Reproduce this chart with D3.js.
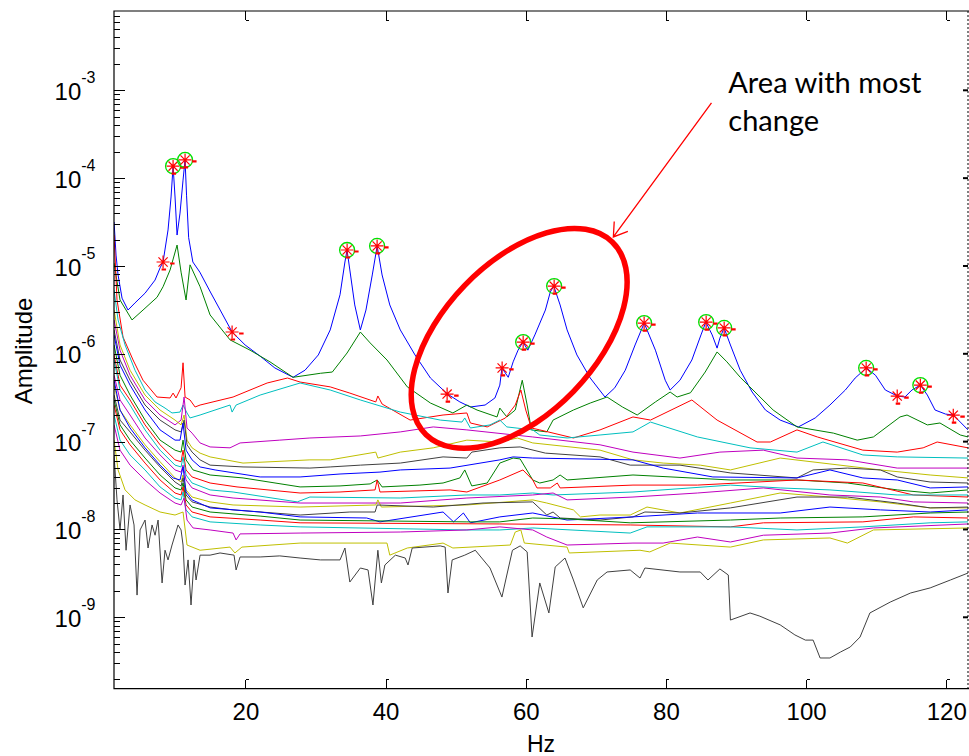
<!DOCTYPE html>
<html>
<head>
<meta charset="utf-8">
<script src="https://cdn.jsdelivr.net/npm/d3@7"></script>
<style>
  body { margin: 0; background: #fff; }
  svg { display: block; font-family: "Liberation Sans", Arial, sans-serif; }
  .axis path, .axis line { stroke: #000; shape-rendering: crispEdges; }
  .line { fill: none; stroke-width: 1; }
  .note { font-family: Lato, "Open Sans", sans-serif; font-size: 29px; fill: #000; }
</style>
</head>
<body>
<script>
// Spectra, one array per measurement: [Hz, amplitude]
var s01 = [[1.26,3.17e-5],[1.54,1.33e-5],[1.83,7.9e-6],[2.40,4.3e-6],[3.25,3.15e-6],[4.25,3.8e-6],[5.68,4.9e-6],[7.10,6.9e-6],[7.82,9.5e-6],[8.25,1.11e-5],[8.96,2.57e-5],[9.39,6.1e-5],[9.68,1.37e-4],[9.96,6.1e-5],[10.25,2.25e-5],[10.67,4.0e-5],[11.10,9.5e-5],[11.39,1.61e-4],[11.6,6.4e-5],[11.9,2.1e-5],[12.5,1.11e-5],[13.5,8.5e-6],[15.0,5.05e-6],[16.4,3.15e-6],[18.1,1.77e-6],[19.96,1.26e-6],[22.1,9.4e-7],[24.2,6.9e-7],[26.8,5.4e-7],[28.5,6.5e-7],[30.4,9.7e-7],[32.1,1.87e-6],[33.5,4.7e-6],[34.2,1.11e-5],[34.5,1.52e-5],[34.9,9.0e-6],[35.6,3.6e-6],[36.4,1.87e-6],[37.2,3.15e-6],[38.1,7.9e-6],[38.8,1.69e-5],[39.5,7.9e-6],[40.6,3.6e-6],[42.1,1.87e-6],[44.2,9.7e-7],[46.4,5.3e-7],[48.8,3.5e-7],[50.6,2.83e-7],[52.1,2.48e-7],[54.2,2.61e-7],[55.6,3.14e-7],[56.3,4.4e-7],[56.6,6.9e-7],[57.5,5.4e-7],[58.2,8.1e-7],[58.9,1.10e-6],[59.6,1.36e-6],[60.3,1.10e-6],[61.3,1.64e-6],[62.8,3.15e-6],[63.5,5.05e-6],[64.0,5.9e-6],[64.9,3.6e-6],[65.9,1.87e-6],[67.3,9.7e-7],[69.2,5.3e-7],[71.3,3.22e-7],[72.7,4.1e-7],[74.2,6.5e-7],[75.6,1.26e-6],[76.9,2.24e-6],[78.5,1.10e-6],[79.9,5.0e-7],[80.6,3.87e-7],[82.0,5.0e-7],[83.7,8.5e-7],[85.0,1.64e-6],[85.7,2.30e-6],[86.6,1.64e-6],[87.3,1.16e-6],[87.7,1.51e-6],[88.3,1.97e-6],[89.2,1.26e-6],[90.6,6.5e-7],[92.3,3.67e-7],[94.2,2.29e-7],[96.3,1.76e-7],[98.9,1.47e-7],[101.3,1.86e-7],[103.4,2.61e-7],[105.6,3.87e-7],[107.0,5.3e-7],[108.6,6.9e-7],[109.9,5.7e-7],[111.3,3.87e-7],[113.0,3.31e-7],[114.1,3.22e-7],[115.1,3.87e-7],[116.3,4.4e-7],[117.3,3.39e-7],[118.4,2.29e-7],[119.9,2.06e-7],[121.0,2.01e-7],[122.0,1.67e-7],[123.1,1.36e-7]];
var s02 = [[1.26,1.08e-5],[2.11,4.1e-6],[3.82,2.43e-6],[5.39,3.15e-6],[7.39,4.4e-6],[8.25,5.8e-6],[9.25,9.0e-6],[10.25,1.73e-5],[10.82,8.5e-6],[11.53,4.1e-6],[12.10,1.03e-5],[13.53,5.8e-6],[14.96,2.77e-6],[17.81,1.44e-6],[20.66,1.10e-6],[23.5,8.1e-7],[26.8,5.4e-7],[30.7,6.0e-7],[32.4,6.2e-7],[34.5,1.02e-6],[36.4,1.77e-6],[37.8,1.33e-6],[40.2,8.5e-7],[43.1,4.2e-7],[46.4,2.75e-7],[49.6,2.12e-7],[51.6,2.61e-7],[53.05,2.29e-7],[55.9,1.91e-7],[56.3,2.41e-7],[57.3,1.91e-7],[58.5,2.29e-7],[59.5,5.0e-7],[60.2,2.61e-7],[60.8,1.36e-7],[63.0,1.29e-7],[63.9,1.76e-7],[66.8,2.29e-7],[69.2,2.75e-7],[71.6,3.22e-7],[73.8,2.48e-7],[75.9,2.01e-7],[78.5,2.83e-7],[80.6,3.67e-7],[81.6,3.22e-7],[83.5,3.6e-7],[85.6,6.2e-7],[87.3,1.05e-6],[88.7,8.1e-7],[90.6,5.4e-7],[95.3,2.29e-7],[98.7,1.47e-7],[103.9,1.25e-7],[107.3,1.04e-7],[109.6,1.13e-7],[113.4,1.91e-7],[114.4,2.01e-7],[117.3,1.55e-7],[119.1,1.63e-7],[122.0,1.19e-7],[123.1,1.13e-7]];
var s03 = [[1.26,2.25e-5],[1.68,4.1e-6],[2.54,1.55e-6],[3.97,8.5e-7],[5.39,5.0e-7],[7.39,3.22e-7],[9.25,3.14e-7],[9.68,3.57e-7],[10.10,3.14e-7],[10.82,4.1e-7],[11.10,7.9e-7],[11.39,3.22e-7],[12.10,2.98e-7],[12.82,2.48e-7],[13.53,2.61e-7],[18.24,3.22e-7],[23.1,4.65e-7],[26.0,5.3e-7],[27.8,4.77e-7],[32.1,4.2e-7],[34.9,3.57e-7],[38.6,2.83e-7],[38.9,3.31e-7],[39.5,2.68e-7],[43.5,1.76e-7],[48.2,2.01e-7],[51.6,2.12e-7],[52.1,1.63e-7],[54.5,1.47e-7],[57.1,1.86e-7],[58.5,2.61e-7],[59.3,3.87e-7],[60.0,2.29e-7],[60.8,1.43e-7],[62.0,1.36e-7],[66.8,1.10e-7],[70.6,1.36e-7],[75.3,1.91e-7],[77.8,1.76e-7],[83.7,2.98e-7],[87.3,1.76e-7],[93.0,9.9e-8],[94.9,9.9e-8],[98.7,1.36e-7],[101.6,1.13e-7],[108.1,8.0e-8],[113.0,7.6e-8],[116.7,8.5e-8],[118.7,9.9e-8],[123.1,8.5e-8]];
var s04 = [[1.26,5.3e-6],[1.83,2.43e-6],[2.83,1.26e-6],[4.25,6.5e-7],[5.68,3.87e-7],[7.11,2.83e-7],[8.53,2.41e-7],[9.53,2.12e-7],[10.67,2.17e-7],[11.10,2.61e-7],[11.67,2.12e-7],[12.10,1.86e-7],[13.53,2.01e-7],[17.8,2.61e-7],[18.1,2.17e-7],[18.67,2.61e-7],[22.1,3.39e-7],[27.8,4.65e-7],[32.1,3.87e-7],[36.4,2.98e-7],[42.1,2.17e-7],[47.8,1.76e-7],[50.9,1.67e-7],[51.3,1.86e-7],[52.1,1.43e-7],[54.9,1.55e-7],[56.3,1.76e-7],[57.3,1.47e-7],[61.0,1.36e-7],[62.0,1.19e-7],[65.9,1.10e-7],[70.6,1.19e-7],[75.3,1.29e-7],[77.8,1.67e-7],[84.5,1.13e-7],[92.0,8.5e-8],[98.7,7.6e-8],[102.4,9.9e-8],[108.1,7.05e-8],[113.0,6.7e-8],[123.1,6.5e-8]];
var s05 = [[1.26,2.43e-6],[2.11,1.10e-6],[3.54,5.7e-7],[5.68,2.98e-7],[7.82,2.01e-7],[9.96,1.55e-7],[10.82,1.76e-7],[11.25,3.22e-7],[11.67,1.43e-7],[12.39,1.25e-7],[13.53,9.66e-8],[14.96,8.7e-8],[17.8,8.5e-8],[19.24,9.66e-8],[24.9,1.04e-7],[29.2,1.10e-7],[36.4,1.16e-7],[42.1,1.29e-7],[46.8,1.47e-7],[51.6,1.36e-7],[61.0,1.13e-7],[70.6,9.2e-8],[75.3,7.6e-8],[82.0,6.5e-8],[87.7,7.6e-8],[93.9,8.0e-8],[98.7,6.5e-8],[105.9,6.2e-8],[113.0,5.0e-8],[123.1,5.0e-8]];
var s06 = [[1.26,3.15e-6],[2.11,1.26e-6],[3.54,6.5e-7],[5.68,3.39e-7],[7.82,2.29e-7],[9.96,1.76e-7],[10.82,1.55e-7],[11.25,2.01e-7],[11.67,1.04e-7],[12.39,8.5e-8],[13.53,7.4e-8],[14.96,6.7e-8],[19.66,5.7e-8],[29.2,6.2e-8],[32.1,6.2e-8],[38.6,7.6e-8],[38.9,6.5e-8],[42.1,7.6e-8],[46.8,8.5e-8],[51.6,1.04e-7],[56.3,9.9e-8],[58.8,1.10e-7],[61.0,9.66e-8],[70.6,8.0e-8],[75.3,6.2e-8],[79.6,5.7e-8],[84.9,5.4e-8],[89.2,4.76e-8],[96.3,6.5e-8],[103.4,5.57e-8],[110.6,4.76e-8],[117.7,4.17e-8],[123.1,3.86e-8]];
var s07 = [[1.26,1.87e-6],[2.11,8.5e-7],[3.54,5.0e-7],[5.68,2.61e-7],[7.82,1.76e-7],[9.96,1.36e-7],[10.82,1.29e-7],[11.25,1.76e-7],[11.67,9.2e-8],[12.39,7.6e-8],[13.53,6.2e-8],[14.96,5.4e-8],[19.66,5.15e-8],[29.2,5.0e-8],[32.1,5.15e-8],[36.4,5.4e-8],[42.1,5.7e-8],[48.2,6.7e-8],[51.6,6.5e-8],[52.3,7.6e-8],[56.3,8.5e-8],[59.2,8.7e-8],[62.8,7.4e-8],[70.6,6.7e-8],[74.9,5.4e-8],[82.0,5.4e-8],[89.2,4.4e-8],[98.7,3.86e-8],[101.0,4.76e-8],[105.9,5.0e-8],[110.6,4.76e-8],[113.0,3.96e-8],[117.7,3.47e-8],[123.1,3.38e-8]];
var s08 = [[1.26,1.64e-6],[2.11,7.45e-7],[3.54,4.4e-7],[5.68,2.29e-7],[7.82,1.36e-7],[9.96,1.04e-7],[10.67,1.04e-7],[11.10,1.63e-7],[11.53,8.0e-8],[12.39,6.2e-8],[13.53,5.15e-8],[15.67,4.76e-8],[22.1,3.96e-8],[27.8,3.96e-8],[33.5,4.28e-8],[39.2,4.5e-8],[42.1,4.76e-8],[49.2,5.0e-8],[56.3,6.2e-8],[58.2,6.7e-8],[61.0,6.5e-8],[75.3,6.2e-8],[79.6,5.0e-8],[86.7,3.96e-8],[98.7,3.86e-8],[103.4,4.76e-8],[108.1,3.86e-8],[113.0,3.66e-8],[117.7,2.97e-8],[123.1,3.05e-8]];
var s09 = [[1.26,1.26e-6],[2.11,5.7e-7],[3.54,3.39e-7],[5.68,1.76e-7],[7.82,1.04e-7],[9.96,8.0e-8],[10.82,7.6e-8],[11.10,1.04e-7],[11.53,6.2e-8],[12.53,4.76e-8],[14.96,4.17e-8],[19.66,3.86e-8],[27.8,3.05e-8],[33.5,3.13e-8],[37.8,3.3e-8],[38.8,3.66e-8],[39.5,3.05e-8],[44.9,3.2e-8],[48.2,3.38e-8],[50.6,3.86e-8],[51.3,4.76e-8],[52.3,3.13e-8],[54.5,3.38e-8],[56.3,5.7e-8],[58.2,6.5e-8],[59.2,6.35e-8],[61.0,3.66e-8],[62.0,3.38e-8],[63.9,3.66e-8],[64.9,4.17e-8],[65.9,3.66e-8],[75.3,4.17e-8],[89.2,3.66e-8],[98.7,3.66e-8],[105.9,3.38e-8],[113.0,2.82e-8],[117.7,2.6e-8],[123.1,2.82e-8]];
var s10 = [[1.26,9.7e-7],[2.11,4.4e-7],[3.54,2.98e-7],[5.68,1.55e-7],[7.82,9.2e-8],[9.96,6.2e-8],[10.82,5.9e-8],[11.10,8.0e-8],[11.53,4.76e-8],[12.39,3.96e-8],[14.96,3.38e-8],[18.8,3.05e-8],[27.8,2.6e-8],[33.5,2.67e-8],[38.5,2.82e-8],[38.8,3.66e-8],[39.2,2.67e-8],[49.2,2.82e-8],[51.6,2.67e-8],[56.3,3.66e-8],[59.6,4.76e-8],[61.0,3.66e-8],[61.6,2.97e-8],[63.5,2.97e-8],[64.5,3.38e-8],[64.9,2.97e-8],[75.3,3.2e-8],[84.5,3.2e-8],[98.7,3.66e-8],[108.1,3.38e-8],[115.3,2.47e-8],[123.1,2.34e-8]];
var s11 = [[1.26,8.5e-7],[2.11,3.87e-7],[3.54,2.61e-7],[5.68,1.36e-7],[7.82,8.0e-8],[9.96,5.4e-8],[10.82,5.15e-8],[11.10,6.7e-8],[11.53,4.17e-8],[12.39,3.38e-8],[14.96,2.82e-8],[18.24,2.67e-8],[27.4,2.06e-8],[29.2,2.34e-8],[42.1,2.28e-8],[51.6,2.47e-8],[56.3,2.47e-8],[61.0,2.6e-8],[63.9,2.47e-8],[75.3,2.67e-8],[89.2,3.2e-8],[96.3,2.97e-8],[103.4,2.82e-8],[113.0,2.47e-8],[123.1,2.47e-8]];
var s12 = [[1.26,5.7e-7],[2.11,2.98e-7],[3.54,2.01e-7],[5.68,1.10e-7],[7.82,7.05e-8],[9.96,4.76e-8],[10.82,4.5e-8],[11.10,5.4e-8],[11.53,3.66e-8],[12.39,2.97e-8],[14.96,2.47e-8],[18.24,2.28e-8],[27.8,2.0e-8],[42.1,2.0e-8],[51.6,2.28e-8],[61.0,2.47e-8],[63.9,2.6e-8],[65.9,2.17e-8],[75.3,2.34e-8],[84.5,2.6e-8],[93.9,2.97e-8],[103.4,2.47e-8],[110.6,2.34e-8],[115.3,2.06e-8],[123.1,2.0e-8]];
var s13 = [[1.26,4.4e-7],[2.11,2.29e-7],[3.54,1.55e-7],[5.68,9.2e-8],[7.82,5.9e-8],[9.96,3.86e-8],[10.82,3.47e-8],[11.10,4.17e-8],[11.53,2.82e-8],[12.39,2.34e-8],[14.96,2.06e-8],[18.24,1.9e-8],[27.8,1.8e-8],[38.6,1.9e-8],[38.9,2.17e-8],[39.4,1.8e-8],[51.6,1.9e-8],[61.0,2.17e-8],[63.0,2.0e-8],[66.8,1.67e-8],[67.8,1.39e-8],[70.6,1.46e-8],[74.9,1.46e-8],[77.3,1.8e-8],[82.0,1.54e-8],[89.2,2.0e-8],[96.3,2.6e-8],[103.4,2.34e-8],[110.6,2.06e-8],[117.7,1.76e-8],[123.1,1.76e-8]];
var s14 = [[1.26,3.39e-7],[2.11,1.76e-7],[3.54,1.29e-7],[5.68,8.0e-8],[7.82,5.15e-8],[9.96,3.47e-8],[10.82,3.13e-8],[11.10,3.86e-8],[11.53,2.47e-8],[12.39,2.06e-8],[14.96,1.8e-8],[18.24,1.67e-8],[27.8,1.46e-8],[34.9,1.58e-8],[38.5,1.58e-8],[38.8,1.9e-8],[46.8,1.8e-8],[53.9,2.0e-8],[61.0,2.06e-8],[63.0,1.46e-8],[63.9,1.58e-8],[64.9,1.35e-8],[70.6,1.28e-8],[75.3,1.39e-8],[77.0,1.58e-8],[82.0,1.54e-8],[89.2,1.76e-8],[98.7,2.34e-8],[105.9,2.34e-8],[113.0,2.0e-8],[117.7,1.76e-8],[123.1,1.8e-8]];
var s15 = [[1.26,5.0e-7],[2.11,2.29e-7],[3.54,1.43e-7],[5.68,8.5e-8],[7.82,5.4e-8],[9.68,3.86e-8],[10.67,3.66e-8],[11.10,5.15e-8],[11.53,2.67e-8],[12.39,2.17e-8],[14.96,1.76e-8],[22.1,1.58e-8],[27.8,1.39e-8],[37.3,1.35e-8],[39.2,1.22e-8],[48.2,1.58e-8],[49.7,1.22e-8],[51.1,1.54e-8],[52.1,1.19e-8],[56.3,1.39e-8],[61.0,1.54e-8],[65.9,1.28e-8],[75.3,1.39e-8],[84.5,1.54e-8],[96.3,1.54e-8],[103.4,1.8e-8],[110.6,1.67e-8],[117.7,1.58e-8],[123.1,1.67e-8]];
var s16 = [[1.26,2.98e-7],[2.11,1.55e-7],[3.54,1.04e-7],[5.68,6.5e-8],[7.82,4.17e-8],[9.96,2.97e-8],[10.82,2.82e-8],[11.10,3.38e-8],[11.53,2.17e-8],[12.39,1.8e-8],[14.96,1.58e-8],[22.1,1.42e-8],[27.8,1.28e-8],[51.6,1.22e-8],[56.3,1.22e-8],[61.0,1.35e-8],[65.9,1.32e-8],[74.9,1.19e-8],[89.2,1.28e-8],[96.3,1.35e-8],[108.1,1.39e-8],[117.7,1.54e-8],[123.1,1.58e-8]];
var s17 = [[1.26,2.61e-7],[2.11,1.36e-7],[3.54,9.2e-8],[5.68,5.7e-8],[7.82,3.66e-8],[9.96,2.6e-8],[10.82,2.47e-8],[11.10,3.05e-8],[11.53,1.9e-8],[12.39,1.58e-8],[14.96,1.39e-8],[22.1,1.28e-8],[27.8,1.19e-8],[56.3,1.155e-8],[74.9,1.125e-8],[89.2,1.07e-8],[93.9,1.19e-8],[108.1,1.22e-8],[115.3,1.39e-8],[123.1,1.35e-8]];
var s18 = [[1.26,2.01e-7],[2.11,1.04e-7],[3.54,7.05e-8],[5.68,4.76e-8],[7.82,3.05e-8],[9.96,2.28e-8],[10.82,2.17e-8],[11.10,2.67e-8],[11.53,1.67e-8],[12.39,1.39e-8],[14.96,1.22e-8],[22.1,1.125e-8],[27.8,1.07e-8],[51.6,9.87e-9],[56.3,9.87e-9],[61.0,1.04e-8],[74.9,9.1e-9],[77.3,1.07e-8],[89.2,1.07e-8],[98.7,9.87e-9],[108.1,1.07e-8],[117.7,1.19e-8],[123.1,1.22e-8]];
var s19 = [[1.26,1.55e-7],[2.11,8.0e-8],[3.54,5.4e-8],[5.68,3.66e-8],[7.82,2.6e-8],[9.96,2.0e-8],[10.82,1.9e-8],[11.25,2.28e-8],[11.67,1.28e-8],[12.53,1.04e-8],[14.96,9.87e-9],[18.24,9.1e-9],[18.67,7.6e-9],[19.24,8.9e-9],[27.8,9.1e-9],[42.1,9.35e-9],[51.6,9.87e-9],[56.3,1.07e-8],[61.0,9.87e-9],[63.0,8.2e-9],[65.9,6.65e-9],[75.3,7.0e-9],[79.6,7.0e-9],[84.5,8.2e-9],[89.2,7.2e-9],[93.9,8.6e-9],[103.4,9.1e-9],[109.6,1.04e-8],[123.1,1.155e-8]];
var s20 = [[1.26,1.04e-7],[1.83,4.76e-8],[2.83,2.82e-8],[4.25,2.17e-8],[5.68,1.9e-8],[7.82,1.58e-8],[9.96,1.46e-8],[11.10,1.58e-8],[11.67,6.65e-9],[13.53,5.8e-9],[17.8,6.3e-9],[18.5,5.4e-9],[19.5,6.3e-9],[27.8,7.0e-9],[40.2,7.0e-9],[40.6,5.1e-9],[43.1,6.15e-9],[48.2,7.0e-9],[49.6,6.15e-9],[57.8,6.65e-9],[58.5,9.35e-9],[59.3,9.87e-9],[59.8,7.0e-9],[65.9,6.3e-9],[66.2,5.4e-9],[76.3,5.8e-9],[77.7,5.55e-9],[80.6,7.0e-9],[89.2,6.3e-9],[93.9,7.6e-9],[103.4,8.0e-9],[105.9,7.0e-9],[109.6,9.87e-9],[123.1,1.04e-8]];
var s21 = [[1.26,7.05e-8],[1.68,2.17e-8],[2.11,9.87e-9],[2.54,2.47e-8],[2.97,5.8e-9],[3.54,1.9e-8],[4.11,1.125e-8],[4.54,1.79e-9],[4.97,9.87e-9],[5.68,1.28e-8],[6.11,6.15e-9],[6.68,1.125e-8],[7.11,8.6e-9],[7.54,1.28e-8],[8.11,2.46e-9],[8.53,5.8e-9],[8.96,4.5e-9],[9.53,6.65e-9],[10.39,1.125e-8],[10.82,9.87e-9],[11.10,6.65e-9],[11.39,2.33e-9],[11.82,4.5e-9],[12.24,1.38e-9],[12.67,4.5e-9],[12.96,2.66e-9],[13.53,5.1e-9],[14.96,5.1e-9],[16.38,5.4e-9],[18.38,5.1e-9],[18.67,3.46e-9],[19.24,4.86e-9],[22.1,4.86e-9],[24.9,5.0e-9],[27.8,4.73e-9],[30.7,4.5e-9],[33.5,4.5e-9],[34.2,6.15e-9],[34.9,2.52e-9],[36.4,3.64e-9],[37.5,3.46e-9],[38.2,1.38e-9],[38.9,5.8e-9],[39.4,2.46e-9],[39.9,3.94e-9],[41.4,5.1e-9],[42.8,4.73e-9],[43.2,3.94e-9],[43.8,6.15e-9],[47.8,6.5e-9],[48.5,6.3e-9],[48.9,1.89e-9],[49.5,4.5e-9],[51.3,5.1e-9],[52.8,5.8e-9],[54.9,3.64e-9],[56.6,1.70e-9],[57.3,3.03e-9],[58.1,5.8e-9],[59.2,6.5e-9],[60.2,5.55e-9],[60.9,5.96e-10],[62.0,2.46e-9],[63.3,1.12e-9],[64.2,3.74e-9],[65.6,4.73e-9],[66.8,2.66e-9],[68.2,1.28e-9],[70.2,2.66e-9],[71.6,3.28e-9],[74.9,3.46e-9],[76.3,2.80e-9],[77.0,3.64e-9],[82.0,3.28e-9],[84.9,3.28e-9],[86.0,2.66e-9],[87.7,3.55e-9],[88.9,3.03e-9],[89.2,9.3e-10],[92.0,1.12e-9],[93.4,1.03e-9],[96.3,8.2e-10],[98.4,6.3e-10],[99.9,5.5e-10],[101.0,5.5e-10],[102.0,3.44e-10],[103.4,3.44e-10],[104.9,4.02e-10],[106.3,4.59e-10],[107.7,5.96e-10],[109.1,1.12e-9],[112.0,1.49e-9],[114.9,1.89e-9],[117.7,2.16e-9],[120.6,2.66e-9],[123.1,3.19e-9]];

var spectra = [s01, s02, s03, s04, s05, s06, s07, s08, s09, s10, s11, s12, s13, s14, s15, s16, s17, s18, s19, s20, s21];
// MATLAB's old colour order b g r c m y k
var lineColors = ["#0000ff", "#008000", "#ff0000", "#00bfbf", "#bf00bf", "#bfbf00", "#404040"];

// picked peaks: circled ones and the ones with a star only
var circledPeaks = [[9.68,1.37e-4],[11.39,1.61e-4],[34.51,1.52e-5],[38.79,1.69e-5],[59.63,1.36e-6],[64.05,5.9e-6],[76.89,2.24e-6],[85.74,2.30e-6],[88.31,1.97e-6],[108.57,6.9e-7],[116.3,4.4e-7]];
var starPeaks = [[8.25,1.11e-5],[18.10,1.77e-6],[48.78,3.48e-7],[56.63,6.9e-7],[113.0,3.3e-7],[121.0,2.0e-7]];

var xTicks = [20, 40, 60, 80, 100, 120];
var yExponents = [-9, -8, -7, -6, -5, -4, -3];

// annotation anchors in data units
var noteLines = ["Area with most", "change"];
var noteAt = [88.9, 9.3e-4];
var arrowFrom = [86.5, 7.2e-4];
var arrowTo = [72.5, 2.14e-5];
var ringCenter = [59.06, 1.5e-6];

var margin = {top: 11, right: 1, bottom: 67.3, left: 114},
    width = 969 - margin.left - margin.right,
    height = 756 - margin.top - margin.bottom;

var x = d3.scaleLinear().domain([1.25, 123.1]).range([0, width]);
var y = d3.scaleLog().domain([1.538e-10, 7.998e-3]).range([height, 0]);

var svg = d3.select("body").append("svg")
    .attr("width", width + margin.left + margin.right)
    .attr("height", height + margin.top + margin.bottom);

var g = svg.append("g")
    .attr("transform", "translate(" + margin.left + "," + margin.top + ")");

g.append("clipPath").attr("id", "plot")
  .append("rect").attr("width", width).attr("height", height);

var line = d3.line()
    .x(function(d) { return x(d[0]); })
    .y(function(d) { return y(d[1]); });

g.append("g").attr("clip-path", "url(#plot)")
  .selectAll("path")
    .data(spectra)
  .enter().append("path")
    .attr("class", "line")
    .attr("stroke", function(d, i) { return lineColors[i % 7]; })
    .attr("d", line);

// peak markers
function star(sel) {
  var r = 6.5, q = 4.6;
  var p = "M" + (-r) + ",0H" + r + "M0," + (-r) + "V" + r +
          "M" + (-q) + "," + (-q) + "L" + q + "," + q +
          "M" + (-q) + "," + q + "L" + q + "," + (-q);
  sel.append("path").attr("d", p).attr("stroke", "#ff0000").attr("stroke-width", 1.2).attr("fill", "none");
  sel.append("path").attr("d", "M7,1.5H11.5M-1.5,7.5H3")
    .attr("stroke", "#ff0000").attr("stroke-width", 2.2).attr("fill", "none");
}

var circ = g.append("g").selectAll("g")
    .data(circledPeaks)
  .enter().append("g")
    .attr("transform", function(d) { return "translate(" + x(d[0]) + "," + y(d[1]) + ")"; });
circ.append("circle").attr("r", 7.5)
    .attr("fill", "none").attr("stroke", "#00e000").attr("stroke-width", 1.3);
circ.call(star);

g.append("g").selectAll("g")
    .data(starPeaks)
  .enter().append("g")
    .attr("transform", function(d) { return "translate(" + x(d[0]) + "," + y(d[1]) + ")"; })
    .call(star);

// axes
var yMinor = y.ticks().filter(function(v) {
  var m = v / Math.pow(10, Math.floor(Math.log10(v) + 1e-9));
  return Math.abs(m - 1) > 1e-6;
});
var yMajor = yExponents.map(function(e) { return Math.pow(10, e); });

g.append("g").attr("class", "axis")
    .call(d3.axisLeft(y).tickValues(yMinor).tickSize(-6).tickFormat(""))
    .select(".domain").remove();
var yAx = g.append("g").attr("class", "axis")
    .call(d3.axisLeft(y).tickValues(yMajor).tickSize(-11).tickFormat(""));
yAx.select(".domain").remove();

// y tick labels with superscript exponents
var ylab = g.append("g").selectAll("text")
    .data(yExponents)
  .enter().append("text")
    .attr("x", -18.5)
    .attr("y", function(e) { return y(Math.pow(10, e)) + 9.7; })
    .attr("text-anchor", "end")
    .style("font-size", "24px");
ylab.append("tspan").text("10");
ylab.append("tspan").attr("dy", -16.7).style("font-size", "16px").text(function(e) { return e; });

var xAx = g.append("g").attr("class", "axis")
    .attr("transform", "translate(0," + height + ")")
    .call(d3.axisBottom(x).tickValues(xTicks).tickSize(-9).tickPadding(14));
xAx.select(".domain").remove();
xAx.selectAll("text").style("font-size", "24px").attr("fill", "#000");
xAx.selectAll(".tick").append("line").attr("x1", 0).attr("x2", 3).attr("y1", -9).attr("y2", -9);

var xTop = g.append("g").attr("class", "axis")
    .call(d3.axisTop(x).tickValues(xTicks).tickSize(-9).tickFormat(""));
xTop.select(".domain").remove();
xTop.selectAll(".tick").append("line").attr("x1", 0).attr("x2", 3).attr("y1", 9).attr("y2", 9);

// frame: solid left/top/bottom, dotted right edge
g.append("path").attr("class", "frame")
    .attr("d", "M" + (width + 1) + ",0H0V" + height + "H" + (width + 1))
    .attr("fill", "none").attr("stroke", "#000").attr("stroke-width", 1.2);
g.append("line")
    .attr("x1", width).attr("x2", width).attr("y1", 0).attr("y2", height)
    .attr("stroke", "#000").attr("stroke-dasharray", "2,2");
g.append("g").selectAll("line")
    .data(yMajor)
  .enter().append("line")
    .attr("x1", width - 5).attr("x2", width)
    .attr("y1", function(d) { return y(d); }).attr("y2", function(d) { return y(d); })
    .attr("stroke", "#000").attr("stroke-width", 2);

// axis titles
svg.append("text")
    .attr("x", margin.left + width / 2)
    .attr("y", 752)
    .attr("text-anchor", "middle")
    .style("font-size", "23px")
    .text("Hz");

svg.append("text")
    .attr("transform", "translate(32,351) rotate(-90)")
    .attr("text-anchor", "middle")
    .style("font-size", "24px")
    .text("Amplitude");

// annotation
var ann = g.append("g");
ann.append("ellipse")
    .attr("cx", 0).attr("cy", 0).attr("rx", 134).attr("ry", 76)
    .attr("transform", "translate(" + x(ringCenter[0]) + "," + y(ringCenter[1]) + ") rotate(-46)")
    .attr("fill", "none").attr("stroke", "#ff0000").attr("stroke-width", 5.5);

var ax0 = x(arrowFrom[0]), ay0 = y(arrowFrom[1]),
    ax1 = x(arrowTo[0]), ay1 = y(arrowTo[1]);
var ang = Math.atan2(ay0 - ay1, ax0 - ax1), hl = 15.5, spread = 33 * Math.PI / 180;
ann.append("path")
    .attr("d", "M" + ax0 + "," + ay0 + "L" + ax1 + "," + ay1 +
               "M" + (ax1 + hl * Math.cos(ang - spread)) + "," + (ay1 + hl * Math.sin(ang - spread)) +
               "L" + ax1 + "," + ay1 +
               "L" + (ax1 + hl * Math.cos(ang + spread)) + "," + (ay1 + hl * Math.sin(ang + spread)))
    .attr("fill", "none").attr("stroke", "#ff0000").attr("stroke-width", 1.3);

ann.append("text").attr("class", "note")
    .attr("x", x(noteAt[0])).attr("y", y(noteAt[1]))
  .selectAll("tspan")
    .data(noteLines)
  .enter().append("tspan")
    .attr("x", x(noteAt[0]))
    .attr("dy", function(d, i) { return i ? 38.4 : 0; })
    .text(function(d) { return d; });
</script>
</body>
</html>
